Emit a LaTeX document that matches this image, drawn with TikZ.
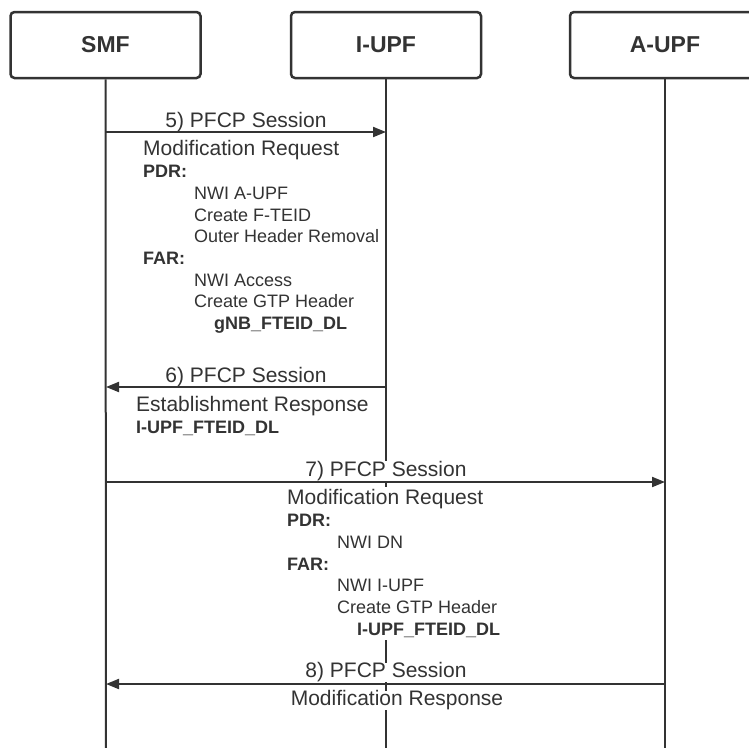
\documentclass[tikz,border=0pt]{standalone}
\usepackage{fontspec}
\setmainfont{Liberation Sans}
\usetikzlibrary{arrows.meta}
\definecolor{ink}{HTML}{333333}
\newcommand{\fbig}{\fontsize{21}{22}\selectfont}
\newcommand{\fsmall}{\fontsize{18}{21.7}\selectfont}
\begin{document}
\begin{tikzpicture}[x=1pt,y=-1pt,
  actor/.style={draw=ink, line width=2.5pt, rounded corners=4pt, minimum width=190pt, minimum height=66pt, font=\fontsize{23}{26}\selectfont\bfseries, text=ink},
  life/.style={draw=ink, line width=2pt},
  msg/.style={draw=ink, line width=2pt, -{Triangle[length=13pt,width=10pt]}},
  lbl/.style={font=\fbig, text=ink, fill=white, inner sep=0pt},
  blk/.style={font=\fsmall, text=ink, align=left, inner sep=0pt, anchor=north west}
]
\useasboundingbox (0,0) rectangle (749,747);
\clip (0,0) rectangle (749,747);
\fill[white] (0,0) rectangle (749,747);
% actors
\node[actor] (smf) at (105.5,45) {SMF};
\node[actor] (iupf) at (386,45) {I-UPF};
\node[actor] (aupf) at (665,45) {A-UPF};
% lifeline ends
\coordinate (smfE) at (106,750);
\coordinate (iupfE) at (386,750);
\coordinate (aupfE) at (665,750);
\draw[life] (smf.south) -- (smfE);
\draw[life] (iupf.south) -- (iupfE);
\draw[life] (aupf.south) -- (aupfE);
% labels
\node[lbl] (l5) at (246,122) {5) PFCP Session};
\node[lbl] (l6) at (246,377) {6) PFCP Session};
\node[lbl] (l7) at (386,471) {7) PFCP Session};
\node[lbl] (l8) at (386,672.5) {8) PFCP Session};
\node[blk] (b5) at (143,140.5) {{\fbig Modification Request}\\
\textbf{PDR:}\\
\hspace*{51pt}NWI A-UPF\\
\hspace*{51pt}Create F-TEID\\
\hspace*{51pt}Outer Header Removal\\
\textbf{FAR:}\\
\hspace*{51pt}NWI Access\\
\hspace*{51pt}Create GTP Header\\
\hspace*{71pt}\textbf{gNB\_FTEID\_DL}};
\node[blk] (b6) at (136,396.5) {{\fbig Establishment Response}\\
\textbf{I-UPF\_FTEID\_DL}};
\node[blk, fill=white, inner sep=3pt] (b7) at (284,486.5) {{\fbig Modification Request}\\
\textbf{PDR:}\\
\hspace*{50pt}NWI DN\\
\textbf{FAR:}\\
\hspace*{50pt}NWI I-UPF\\
\hspace*{50pt}Create GTP Header\\
\hspace*{70pt}\textbf{I-UPF\_FTEID\_DL}};
\node[lbl] (r8) at (397,700.5) {Modification Response};
% message points
\coordinate (s5) at (106,132); \coordinate (i5) at (386,132);
\coordinate (s6) at (106,387); \coordinate (i6) at (386,387);
\coordinate (s7) at (106,482); \coordinate (a7) at (665,482);
\coordinate (s8) at (106,684); \coordinate (a8) at (665,684);
\draw[msg] (s5) -- (i5);
\draw[msg] (i6) -- (s6);
\draw[msg] (s7) -- (a7);
\draw[msg] (a8) -- (s8);
\end{tikzpicture}
\end{document}
